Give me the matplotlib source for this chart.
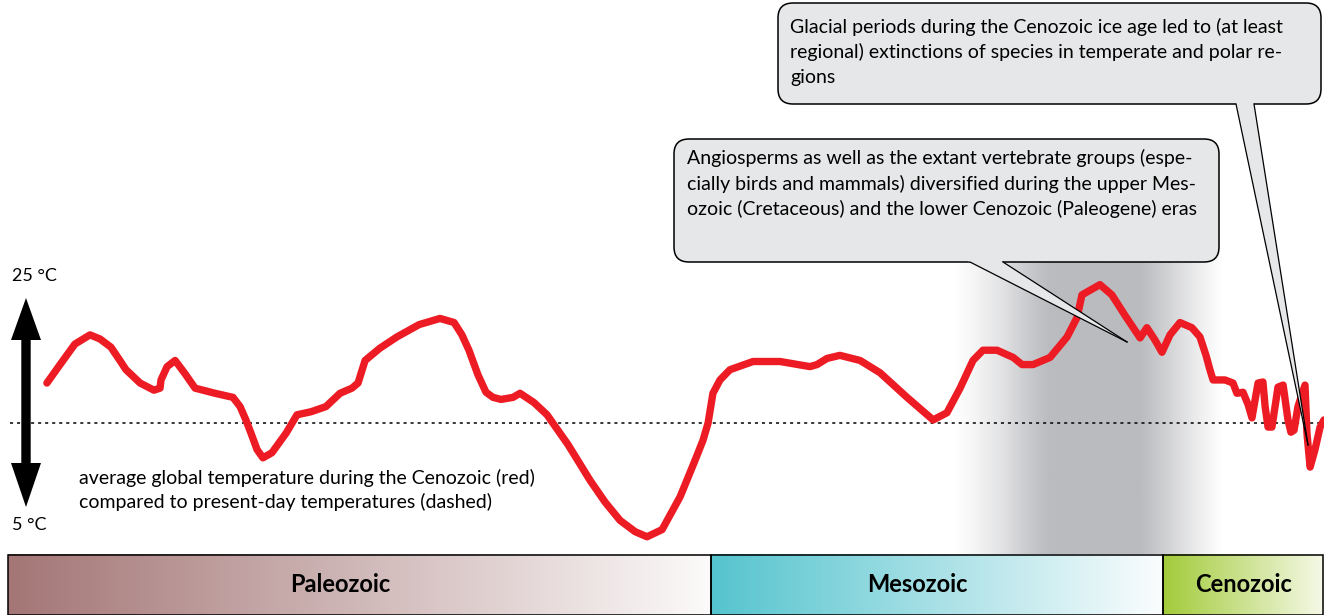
import matplotlib
matplotlib.use("Agg")
import matplotlib.pyplot as plt
from matplotlib.patches import FancyBboxPatch, Polygon, Rectangle
from matplotlib.transforms import Affine2D
import numpy as np

W, H = 1324, 615
FONT = ["Lato", "DejaVu Sans"]

# age in million years ago and average global temperature (deg C)
age_ma = [525.0, 519.6, 513.5, 507.3, 503.2, 498.7, 495.0, 492.5, 486.7, 481.0,
          478.5, 478.1, 475.6, 472.3, 468.2, 464.1, 455.9, 448.5, 445.6, 443.2,
          441.1, 438.6, 436.2, 432.5, 426.7, 422.2, 416.4, 410.3, 404.5, 399.6,
          397.1, 394.2, 388.1, 381.1, 372.0, 363.4, 357.6, 354.4, 351.5, 347.8,
          344.5, 341.6, 338.3, 333.4, 330.5, 324.8, 319.4, 310.8, 301.7, 295.6,
          289.4, 283.2, 278.3, 272.1, 264.7, 259.0, 255.3, 253.2, 251.2, 248.3,
          244.2, 234.7, 223.6, 211.3, 208.4, 204.3, 199.0, 190.7, 182.5, 171.4,
          160.7, 155.0, 149.6, 144.3, 140.2, 134.4, 127.8, 124.1, 119.6, 112.6,
          105.6, 101.5, 99.5, 92.1, 87.2, 81.8, 75.6, 72.8, 69.5, 66.6,
          63.3, 59.2, 54.3, 51.0, 48.5, 46.9, 45.6, 40.7, 37.4, 35.8,
          33.3, 31.2, 29.6, 28.0, 27.1, 25.1, 24.2, 23.0, 21.4, 18.9,
          16.8, 14.8, 13.6, 12.3, 10.7, 7.8, 7.0, 5.7, 3.7, 1.6, 0.0]
temp_c = [16.9, 18.7, 20.7, 21.6, 21.2, 20.4, 19.1, 18.2, 16.9, 16.2,
          16.4, 17.2, 18.5, 19.1, 17.8, 16.4, 15.9, 15.5, 14.6, 13.3,
          12.0, 10.4, 9.6, 10.1, 12.0, 13.8, 14.1, 14.6, 15.9, 16.4,
          16.9, 19.1, 20.3, 21.4, 22.6, 23.2, 22.8, 21.6, 20.1, 17.7,
          16.0, 15.5, 15.3, 15.5, 15.9, 15.0, 13.8, 10.9, 7.4, 5.3,
          3.5, 2.4, 1.9, 2.6, 5.8, 9.1, 11.3, 13.0, 15.9, 17.2,
          18.2, 19.0, 19.0, 18.5, 18.7, 19.3, 19.6, 19.1, 17.9, 15.5,
          13.3, 14.0, 16.4, 19.1, 20.1, 20.1, 19.4, 18.7, 18.7, 19.4,
          21.4, 23.3, 25.5, 26.5, 25.5, 23.5, 21.3, 22.3, 21.1, 19.9,
          21.6, 22.8, 22.3, 21.4, 19.6, 18.2, 17.2, 17.2, 16.9, 15.9,
          16.0, 14.8, 13.5, 15.7, 16.9, 17.0, 14.6, 12.6, 12.6, 16.5,
          16.7, 13.3, 12.1, 12.3, 14.6, 16.7, 12.0, 8.7, 10.4, 12.6, 13.3]
present_temp = 13.0

eras = ["Paleozoic", "Mesozoic", "Cenozoic"]
era_start = [541, 252, 66]
era_end = [252, 66, 0]
era_label_at = [404.5, 167, 33]   # label centres (Ma), left of the middle as in the picture
era_colors = [("#a47676", "#fcfafa"), ("#55c4ce", "#fbfdfe"), ("#a2cb3a", "#f5f8e6")]

callout_glacial = ["Glacial periods during the Cenozoic ice age led to (at least",
                   "regional) extinctions of species in temperate and polar re-",
                   "gions"]
callout_angio = ["Angiosperms as well as the extant vertebrate groups (espe-",
                 "cially birds and mammals) diversified during the upper Mes-",
                 "ozoic (Cretaceous) and the lower Cenozoic (Paleogene) eras"]
caption = ["average global temperature during the Cenozoic (red)",
           "compared to present-day temperatures (dashed)"]


# picture pixels -> data units (time axis is linear in Ma, 25 / 5 degC at the arrow tips)
def X(px):
    return 541 - (px - 8) / 2.4325


def Y(py):
    return 5 + (505 - py) / 10.25


fig = plt.figure(figsize=(W / 100, H / 100), dpi=100, facecolor="white")
ax = fig.add_axes([0, 0, 1, 1])
ax.axis("off")
img = Affine2D().scale(1, -1).translate(0, H)   # y-down pixel coords for the annotations

# grey shading behind the Cretaceous/Paleogene part
cols = np.linspace(955, 1222, 300)
dark = np.interp(cols, [955, 975, 1000, 1030, 1050, 1140, 1165, 1195, 1222],
                 [0, 0.15, 0.4, 0.8, 1, 1, 0.7, 0.3, 0])
white = np.array([1.0, 1.0, 1.0])
grey = np.array([186, 187, 191]) / 255
band = white + dark[:, None] * (grey - white)
ax.imshow(band[None, :, :], extent=(X(955), X(1222), Y(555), Y(240)),
          aspect="auto", zorder=1, interpolation="bilinear")

# era bar
for name, s, e, lx, (c0, c1) in zip(eras, era_start, era_end, era_label_at, era_colors):
    e = max(e, X(1323))
    a = np.array(matplotlib.colors.to_rgb(c0))
    b = np.array(matplotlib.colors.to_rgb(c1))
    t = np.linspace(0, 1, 200)[:, None]
    grad = a + t * (b - a)
    ax.imshow(grad[None, :, :], extent=(s, e, Y(615), Y(555)),
              aspect="auto", zorder=2, interpolation="bilinear")
    ax.add_patch(Rectangle((s, Y(615)), e - s, Y(555) - Y(615),
                           fill=False, ec="black", lw=1.1, zorder=3))
    ax.text(lx, Y(584), name, ha="center", va="center",
            fontsize=17, fontweight="bold", family=FONT, zorder=4)

# present-day temperature and the temperature curve
ax.plot([X(10), X(1324)], [present_temp, present_temp], color="black", lw=1.1,
        linestyle=(0, (2, 2.6)), zorder=3)
ax.plot(age_ma, temp_c, color="#ed1c24", lw=5.3, solid_joinstyle="round",
        solid_capstyle="round", zorder=4)

# double-headed temperature arrow
cx = 26
arrow = [(cx, 298), (cx + 15, 340), (cx + 4.7, 340), (cx + 4.7, 463), (cx + 15, 463),
         (cx, 507), (cx - 15, 463), (cx - 4.7, 463), (cx - 4.7, 340), (cx - 15, 340)]
ax.add_patch(Polygon(arrow, closed=True, fc="black", ec="none", transform=img, zorder=5))
ax.text(12, 276, "25 °C", transform=img, fontsize=13, va="center", family=FONT)
ax.text(12, 525, "5 °C", transform=img, fontsize=13, va="center", family=FONT)

for i, line in enumerate(caption):
    ax.text(79, 478 + i * 24, line, transform=img, fontsize=14, va="center",
            family=FONT, zorder=6)


def callout(x0, y0, x1, y1, base_a, base_b, tip, z):
    ax.add_patch(FancyBboxPatch((x0, y0), x1 - x0, y1 - y0,
                                boxstyle="round,pad=0,rounding_size=15",
                                fc="#e6e7e8", ec="black", lw=1.1, transform=img, zorder=z))
    tx, ty = tip
    pts = []
    for bx in (base_a, base_b):
        k = (tx - bx) / (ty - y1)
        pts.append((bx - 4 * k, y1 - 4))
    ax.add_patch(Polygon([pts[0], (tx, ty), pts[1]], closed=True, fc="#e6e7e8",
                         ec="none", transform=img, zorder=z + 0.1))
    for bx in (base_a, base_b):
        ax.plot([bx, tx], [y1, ty], color="black", lw=0.9, transform=img, zorder=z + 0.2)


def text_block(lines, left, y0, step, z):
    for i, line in enumerate(lines):
        ax.text(left, y0 + i * step, line, transform=img, fontsize=14, va="center",
                family=FONT, zorder=z)


callout(674, 139, 1219, 262, 970, 1003, (1127, 342), 7)
text_block(callout_angio, 687, 158, 25.5, 8)

callout(778, 3, 1321, 104, 1236, 1254, (1308, 445), 9)
text_block(callout_glacial, 790, 27, 25, 10)

ax.set_xlim(X(0), X(W))
ax.set_ylim(Y(H), Y(0))

fig.savefig("out.png", dpi=100, facecolor="white")
